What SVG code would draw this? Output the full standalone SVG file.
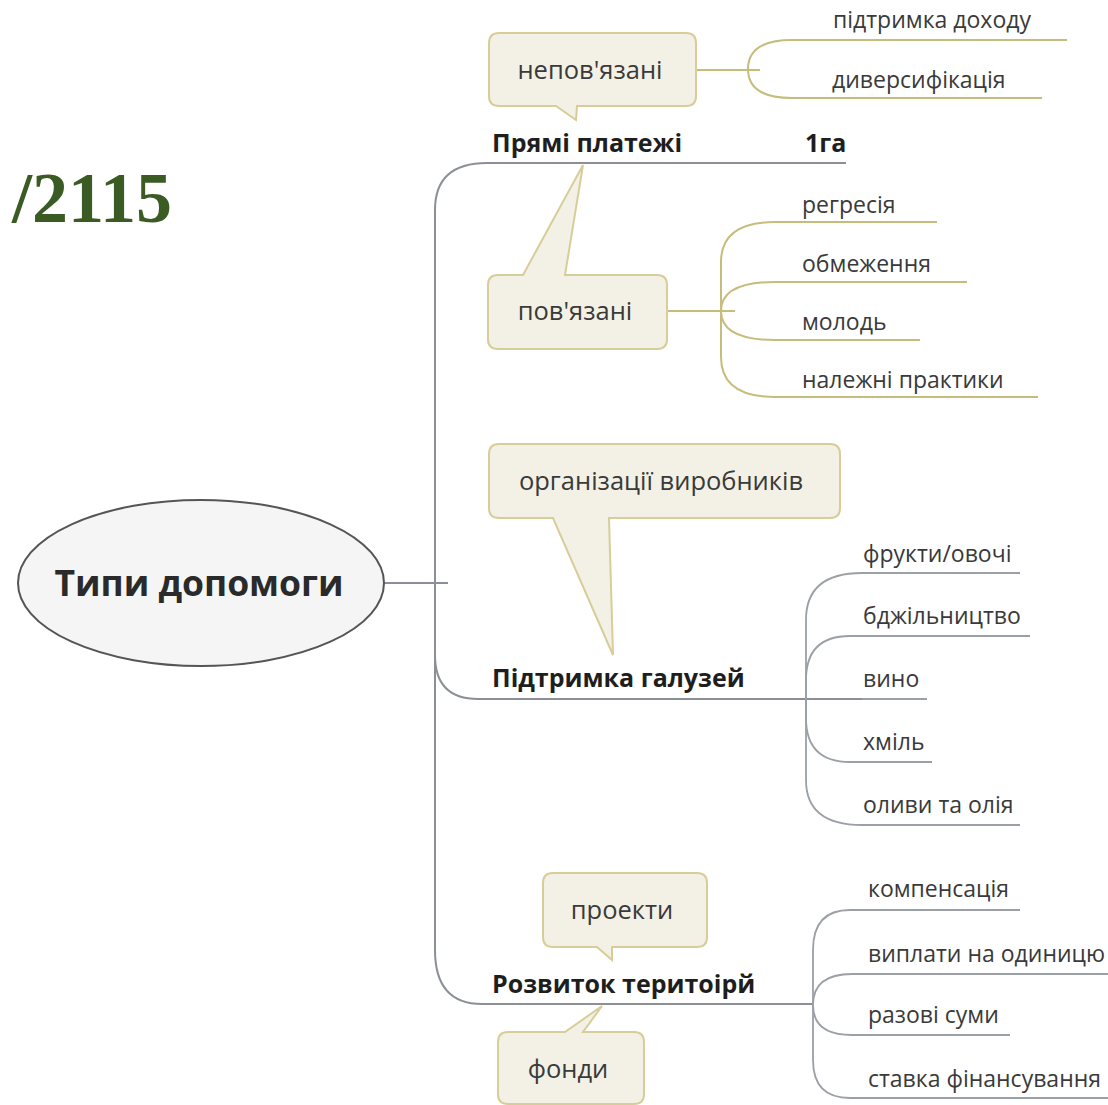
<svg xmlns="http://www.w3.org/2000/svg" width="1108" height="1105" viewBox="0 0 1108 1105">
<style>
.t{font-family:"Open Sans","Noto Sans",sans-serif;font-size:23px;fill:#3a3a3a}
.bt{font-family:"Open Sans","Noto Sans",sans-serif;font-size:25.5px;fill:#3a3a3a;text-anchor:middle}
.b{font-family:"Open Sans","Noto Sans",sans-serif;font-size:25px;font-weight:bold;fill:#1e1e1e}
.bub{fill:#f3f1e6;stroke:#d8cd98;stroke-width:2}
.ol{fill:none;stroke:#c6bd7c;stroke-width:2}
.gr{fill:none;stroke:#8c9096;stroke-width:2}
.gl{fill:none;stroke:#9aa0a6;stroke-width:1.8}
</style>
<rect width="1108" height="1105" fill="#ffffff"/>
<text x="172" y="222" text-anchor="end" font-family="Liberation Serif, serif" font-weight="bold" font-size="72" fill="#3b5b24">/2115</text>

<g id="connectors">
  <line class="gr" x1="384" y1="583" x2="448" y2="583" stroke="#555"/>
  <path class="gr" d="M846,163 H487 Q435,163 435,210 V950 Q435,1004 482,1004 H813"/>
  <path class="gr" d="M435,655 Q435,699 478,699 H862"/>
  <path class="ol" d="M695,70 H760"/>
  <path class="ol" d="M1067,40 H792 Q748,40 748,69 Q748,98 792,98 H1042"/>
  <path class="ol" d="M667,311 H735"/>
  <path class="ol" d="M937,222 H775 Q721,222 721,262 V357 Q721,397 775,397 H1038"/>
  <path class="ol" d="M721,311 Q721,282 775,282 H967"/>
  <path class="ol" d="M721,311 Q721,340 775,340 H920"/>
  <path class="gl" d="M1020,573 H862 Q806,573 806,620 V780 Q806,825 862,825 H1020"/>
  <path class="gl" d="M806,699 V680 Q806,636 850,636 H1030"/>
  <path class="gl" d="M862,699 H927"/>
  <path class="gl" d="M806,699 V718 Q806,762 850,762 H932"/>
  <path class="gl" d="M1020,910 H850 Q813,910 813,950 V1060 Q813,1098 850,1098 H1108"/>
  <path class="gl" d="M813,1005 Q813,974 852,974 H1108"/>
  <path class="gl" d="M813,1005 Q813,1035 852,1035 H1010"/>
</g>

<g id="root">
  <ellipse cx="201" cy="583" rx="183" ry="83" fill="#f5f5f5" stroke="#555" stroke-width="2"/>
  <text x="199" y="596" text-anchor="middle" font-family="Open Sans, sans-serif" font-weight="bold" font-size="35.5" fill="#2a2a2a">Типи допомоги</text>
</g>

<g id="direct">
  <text class="b" x="492" y="152">Прямі платежі</text>
  <text class="b" x="805" y="152" font-size="22">1га</text>
</g>
<g id="unlinked">
  <path class="bub" d="M499,33 H686 Q696,33 696,43 V96 Q696,106 686,106 H577 L576,120 L556,106 H499 Q489,106 489,96 V43 Q489,33 499,33 Z"/>
  <text class="bt" x="590" y="79">непов'язані</text>
</g>
<g id="income"><text class="t" x="833" y="28">підтримка доходу</text></g>
<g id="divers"><text class="t" x="832" y="88">диверсифікація</text></g>
<g id="linked">
  <path class="bub" d="M498,275 H523 L583,165 L565,275 H657 Q667,275 667,285 V339 Q667,349 657,349 H498 Q488,349 488,339 V285 Q488,275 498,275 Z"/>
  <text class="bt" x="575" y="320">пов'язані</text>
</g>
<g id="regr"><text class="t" x="802" y="213">регресія</text></g>
<g id="limit"><text class="t" x="802" y="272">обмеження</text></g>
<g id="young"><text class="t" x="802" y="330">молодь</text></g>
<g id="gap"><text class="t" x="802" y="388">належні практики</text></g>

<g id="sector">
  <text class="b" x="492" y="687">Підтримка галузей</text>
</g>
<g id="org">
  <path class="bub" d="M499,444 H830 Q840,444 840,454 V508 Q840,518 830,518 H609 L613,655 L553,518 H499 Q489,518 489,508 V454 Q489,444 499,444 Z"/>
  <text class="bt" x="661" y="490">організації виробників</text>
</g>
<g id="fruit"><text class="t" x="863" y="562">фрукти/овочі</text></g>
<g id="bee"><text class="t" x="863" y="624">бджільництво</text></g>
<g id="wine"><text class="t" x="863" y="687">вино</text></g>
<g id="hop"><text class="t" x="863" y="750">хміль</text></g>
<g id="olive"><text class="t" x="863" y="813">оливи та олія</text></g>

<g id="rural">
  <text class="b" x="492" y="993">Розвиток теритоірй</text>
</g>
<g id="projects">
  <path class="bub" d="M553,873 H697 Q707,873 707,883 V937 Q707,947 697,947 H612 L612,960 L597,947 H553 Q543,947 543,937 V883 Q543,873 553,873 Z"/>
  <text class="bt" x="622" y="919">проекти</text>
</g>
<g id="funds">
  <path class="bub" d="M508,1032 H565 L602,1006 L583,1032 H634 Q644,1032 644,1042 V1094 Q644,1104 634,1104 H508 Q498,1104 498,1094 V1042 Q498,1032 508,1032 Z"/>
  <text class="bt" x="568" y="1078">фонди</text>
</g>
<g id="comp"><text class="t" x="868" y="897">компенсація</text></g>
<g id="unit"><text class="t" x="868" y="962">виплати на одиницю</text></g>
<g id="lump"><text class="t" x="868" y="1023">разові суми</text></g>
<g id="rate"><text class="t" x="868" y="1087">ставка фінансування</text></g>
</svg>
